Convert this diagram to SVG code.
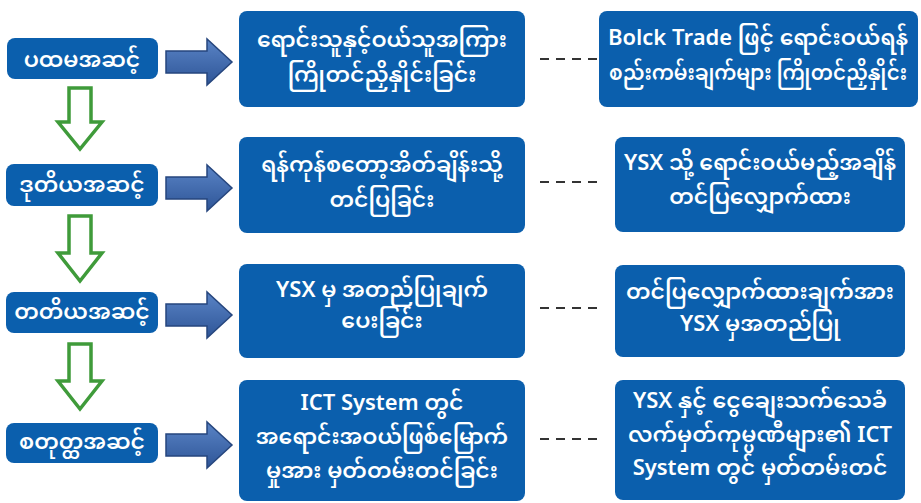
<svg xmlns="http://www.w3.org/2000/svg" width="921" height="503" viewBox="0 0 921 503">
<defs>
<style>
.box{fill:#0b5fad;}
.t{fill:#ffffff;font-family:"Noto Sans Myanmar","Myanmar Text","Padauk","Noto Sans",sans-serif;font-size:22px;font-weight:600;text-anchor:middle;}
.barrow{fill:url(#bg);stroke:#26467e;stroke-width:1.5;}
.garrow{fill:#ffffff;stroke:#3f9b3a;stroke-width:3.5;stroke-linejoin:miter;}
.dash{stroke:#333333;stroke-width:2;stroke-dasharray:9 7;fill:none;}
</style>
<linearGradient id="bg" x1="0" y1="0" x2="0" y2="1">
<stop offset="0" stop-color="#5a84c6"/>
<stop offset="1" stop-color="#2e5597"/>
</linearGradient>
</defs>
<rect width="921" height="503" fill="#ffffff"/>

<g id="connectors">
<path class="barrow" d="M166,51 L207,51 L207,39 L232,62 L207,85 L207,73 L166,73 Z"/>
<path class="barrow" d="M166,177 L207,177 L207,165 L232,188 L207,211 L207,199 L166,199 Z"/>
<path class="barrow" d="M166,304 L207,304 L207,292 L232,315 L207,338 L207,326 L166,326 Z"/>
<path class="barrow" d="M166,434 L207,434 L207,422 L232,445 L207,468 L207,456 L166,456 Z"/>
<path class="garrow" d="M69,88 L91,88 L91,122 L102,122 L80,149 L58,122 L69,122 Z"/>
<path class="garrow" d="M69,216 L91,216 L91,253 L102,253 L80,281 L58,253 L69,253 Z"/>
<path class="garrow" d="M69,344 L91,344 L91,381 L102,381 L80,409 L58,381 L69,381 Z"/>
<line class="dash" x1="540" y1="59" x2="598" y2="59"/>
<line class="dash" x1="540" y1="182" x2="600" y2="182"/>
<line class="dash" x1="540" y1="308" x2="600" y2="308"/>
<line class="dash" x1="540" y1="439" x2="600" y2="439"/>
</g>

<g id="step1">
<rect class="box" x="7" y="38" width="151" height="41" rx="8"/>
<text class="t" x="82" y="67">ပထမအဆင့်</text>
</g>
<g id="step2">
<rect class="box" x="6" y="164" width="152" height="42" rx="8"/>
<text class="t" x="82" y="192">ဒုတိယအဆင့်</text>
</g>
<g id="step3">
<rect class="box" x="6" y="292" width="152" height="41" rx="8"/>
<text class="t" x="82" y="319">တတိယအဆင့်</text>
</g>
<g id="step4">
<rect class="box" x="6" y="423" width="152" height="40" rx="8"/>
<text class="t" x="82" y="449">စတုတ္ထအဆင့်</text>
</g>

<g id="mid1">
<rect class="box" x="239" y="11" width="286" height="96" rx="8"/>
<text class="t" x="382" y="47">ရောင်းသူနှင့်ဝယ်သူအကြား</text>
<text class="t" x="382" y="82">ကြိုတင်ညှိနှိုင်းခြင်း</text>
</g>
<g id="mid2">
<rect class="box" x="239" y="137" width="286" height="96" rx="8"/>
<text class="t" x="382" y="172">ရန်ကုန်စတော့အိတ်ချိန်းသို့</text>
<text class="t" x="382" y="207">တင်ပြခြင်း</text>
</g>
<g id="mid3">
<rect class="box" x="239" y="264" width="286" height="94" rx="8"/>
<text class="t" x="382" y="297">YSX မှ အတည်ပြုချက်</text>
<text class="t" x="382" y="328">ပေးခြင်း</text>
</g>
<g id="mid4">
<rect class="box" x="239" y="380" width="286" height="121" rx="8"/>
<text class="t" x="382" y="410">ICT System တွင်</text>
<text class="t" x="382" y="444">အရောင်းအဝယ်ဖြစ်မြောက်</text>
<text class="t" x="382" y="478">မှုအား မှတ်တမ်းတင်ခြင်း</text>
</g>

<g id="right1">
<rect class="box" x="599" y="11" width="319" height="96" rx="8"/>
<text class="t" x="758" y="45">Bolck Trade ဖြင့် ရောင်းဝယ်ရန်</text>
<text class="t" x="758" y="80" style="font-size:21px" textLength="298" lengthAdjust="spacingAndGlyphs">စည်းကမ်းချက်များ ကြိုတင်ညှိနှိုင်း</text>
</g>
<g id="right2">
<rect class="box" x="615" y="137" width="290" height="95" rx="8"/>
<text class="t" x="760" y="170">YSX သို့ ရောင်းဝယ်မည့်အချိန်</text>
<text class="t" x="760" y="204">တင်ပြလျှောက်ထား</text>
</g>
<g id="right3">
<rect class="box" x="615" y="265" width="290" height="92" rx="8"/>
<text class="t" x="760" y="299">တင်ပြလျှောက်ထားချက်အား</text>
<text class="t" x="760" y="331">YSX မှအတည်ပြု</text>
</g>
<g id="right4">
<rect class="box" x="615" y="380" width="290" height="120" rx="8"/>
<text class="t" x="760" y="408">YSX နှင့် ငွေချေးသက်သေခံ</text>
<text class="t" x="760" y="442">လက်မှတ်ကုမ္ပဏီများ၏ ICT</text>
<text class="t" x="760" y="475">System တွင် မှတ်တမ်းတင်</text>
</g>
</svg>
